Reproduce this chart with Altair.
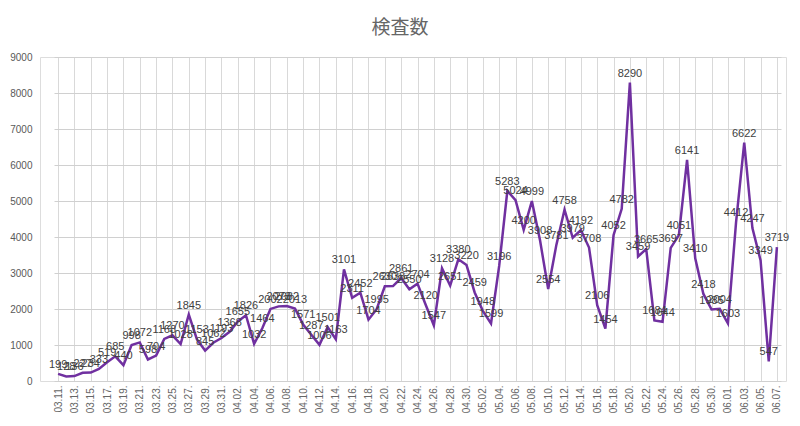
import altair as alt
import pandas as pd

# Test counts, 2020-03-11 .. 2020-06-07 (daily)
dates = [d.strftime("%m.%d.") for d in pd.date_range("2020-03-11", "2020-06-07", freq="D")]

march = [199, 128, 136, 227, 234, 333, 519, 685, 440, 998, 1072, 598, 704, 1168,
         1270, 1028, 1845, 1153, 845, 1062, 1193]
april = [1368, 1655, 1826, 1032, 1464, 2002, 2073, 2082, 2013, 1571, 1287, 1006,
         1501, 1163, 3101, 2311, 2452, 1704, 1995, 2630, 2638, 2861, 2550, 2704,
         2120, 1547, 3128, 2651, 3380, 3220]
may = [2459, 1948, 1599, 3196, 5283, 5024, 4200, 4999, 3908, 2554, 3781, 4758,
       3979, 4192, 3708, 2106, 1454, 4052, 4782, 8290, 3459, 3665, 1684, 1644,
       3697, 4051, 6141, 3410, 2418, 1985, 2004]
june = [1603, 4412, 6622, 4247, 3349, 547, 3719]

values = march + april + may + june
tick_labels = dates[::2]

df = pd.DataFrame({"date": dates, "count": values})

x = alt.X(
    "date:O",
    sort=None,
    title=None,
    scale=alt.Scale(type="point", range=[14, 741]),
    axis=alt.Axis(
        values=tick_labels,
        labelAngle=270,
        labelFontSize=10,
        labelColor="#666666",
        labelFont="Liberation Sans",
        labelPadding=4,
        domain=False,
        ticks=False,
        grid=True,
        gridColor="#d9d9d9",
        gridWidth=1,
    ),
)
y = alt.Y(
    "count:Q",
    title=None,
    scale=alt.Scale(domain=[0, 9000]),
    axis=alt.Axis(
        values=list(range(0, 9001, 1000)),
        format="d",
        labelFontSize=10,
        labelColor="#595959",
        labelFont="Liberation Sans",
        labelPadding=8,
        domain=False,
        ticks=False,
        grid=True,
        gridColor="#d0d0d0",
    ),
)

base = alt.Chart(df).encode(x=x, y=y)

line = base.mark_line(color="#7030A0", strokeWidth=2.5)
labels = base.mark_text(
    dy=-9, fontSize=11, color="#404040", font="Liberation Sans"
).encode(text=alt.Text("count:Q", format="d"))

chart = (
    (line + labels)
    .properties(
        width=746,
        height=324,
        title=alt.TitleParams(
            "検査数",
            fontSize=19,
            color="#666666",
            font="Noto Sans CJK JP",
            fontWeight="normal",
            anchor="middle",
            dx=-13,
            offset=14,
        ),
        autosize=alt.AutoSizeParams(type="none"),
        padding={"left": 32, "top": 49, "right": 6, "bottom": 37},
    )
    .configure_view(fill="#f0f0f0", stroke="#d9d9d9")
    .configure(background="white")
)

chart.save("out.html", embed_options={"renderer": "svg", "actions": False})
